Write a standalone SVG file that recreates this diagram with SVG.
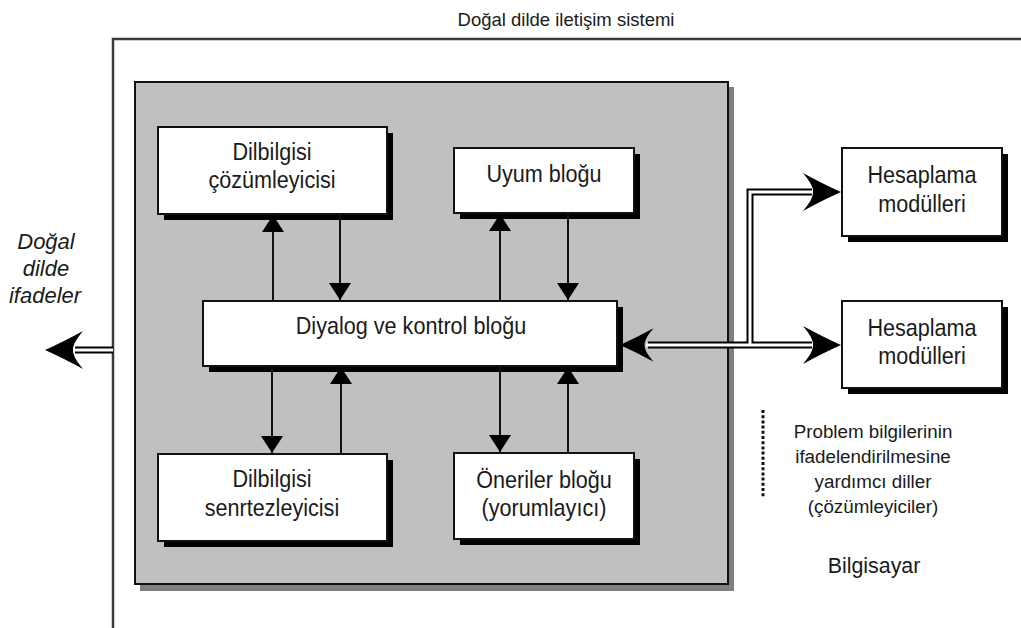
<svg xmlns="http://www.w3.org/2000/svg" width="1021" height="628" viewBox="0 0 1021 628">
  <style>
    .lbl { font-family: "Liberation Sans", Arial, sans-serif; font-size: 24px; fill: #1a1a1a; text-anchor: middle; }
    .sm { font-size: 18.8px; }
    .it { font-style: italic; font-size: 22px; }
    .ttl { font-size: 18.5px; }
    .cap { font-size: 21.4px; }
    .box { fill: #fff; stroke: #111; stroke-width: 2; }
    .shd { fill: #000; }
    .link { stroke: #111; stroke-width: 2; fill: none; }
    .dblo { stroke: #000; stroke-width: 7; fill: none; }
    .dbli { stroke: #fff; stroke-width: 3; fill: none; }
    .head { fill: #000; }
  </style>
  <defs>
    <marker id="tri" viewBox="0 0 17 22" markerWidth="17" markerHeight="22" refX="17" refY="11" orient="auto" markerUnits="userSpaceOnUse">
      <path d="M0,0 L17,11 L0,22 Z" fill="#000"/>
    </marker>
    <!-- barbed head, tip at origin pointing left -->
    <path id="barb" d="M0,0 Q18,-8 38,-19 Q27,-6 28,0 Q27,6 38,19 Q18,8 0,0 Z"/>
  </defs>

  <rect width="1021" height="628" fill="#fff"/>

  <!-- system frame -->
  <path d="M113,628 L113,39 L1021,39" fill="none" stroke="#3a3a3a" stroke-width="2.5"/>
  <text class="lbl ttl" x="566" y="26">Doğal dilde iletişim sistemi</text>

  <!-- grey panel -->
  <g id="panel">
    <rect x="140" y="87" width="594" height="504" fill="#808080"/>
    <rect x="135" y="82" width="593" height="502" fill="#c0c0c0" stroke="#111" stroke-width="2"/>
  </g>

  <g id="dilbilgisi-cozumleyicisi">
    <rect class="shd" x="164" y="133" width="229" height="87"/>
    <rect class="box" x="158" y="127" width="229" height="87"/>
    <text class="lbl" transform="translate(272,160) scale(0.9,1)">Dilbilgisi</text>
    <text class="lbl" transform="translate(272,188) scale(0.9,1)">çözümleyicisi</text>
  </g>

  <g id="uyum-blogu">
    <rect class="shd" x="460" y="154" width="180" height="65"/>
    <rect class="box" x="454" y="148" width="180" height="65"/>
    <text class="lbl" transform="translate(544,182) scale(0.9,1)">Uyum bloğu</text>
  </g>

  <g id="diyalog">
    <rect class="shd" x="209" y="307" width="414" height="65"/>
    <rect class="box" x="203" y="301" width="414" height="65"/>
    <text class="lbl" transform="translate(411,334) scale(0.9,1)">Diyalog ve kontrol bloğu</text>
  </g>

  <g id="dilbilgisi-sentezleyicisi">
    <rect class="shd" x="164" y="460" width="229" height="87"/>
    <rect class="box" x="158" y="454" width="229" height="87"/>
    <text class="lbl" transform="translate(272,487) scale(0.9,1)">Dilbilgisi</text>
    <text class="lbl" transform="translate(272,516) scale(0.9,1)">senrtezleyicisi</text>
  </g>

  <g id="oneriler-blogu">
    <rect class="shd" x="460" y="459" width="180" height="86"/>
    <rect class="box" x="454" y="453" width="180" height="86"/>
    <text class="lbl" transform="translate(544,488) scale(0.9,1)">Öneriler bloğu</text>
    <text class="lbl" transform="translate(544,516) scale(0.9,1)">(yorumlayıcı)</text>
  </g>

  <g id="hesaplama-1">
    <rect class="shd" x="848" y="154" width="160" height="88"/>
    <rect class="box" x="842" y="148" width="160" height="88"/>
    <text class="lbl" transform="translate(922,183) scale(0.9,1)">Hesaplama</text>
    <text class="lbl" transform="translate(922,212) scale(0.9,1)">modülleri</text>
  </g>

  <g id="hesaplama-2">
    <rect class="shd" x="848" y="307" width="160" height="87"/>
    <rect class="box" x="842" y="301" width="160" height="87"/>
    <text class="lbl" transform="translate(922,336) scale(0.9,1)">Hesaplama</text>
    <text class="lbl" transform="translate(922,364) scale(0.9,1)">modülleri</text>
  </g>

  <!-- connectors -->
  <g id="connectors">
    <line class="link" x1="273" y1="301" x2="273" y2="215" marker-end="url(#tri)"/>
    <line class="link" x1="340" y1="214" x2="340" y2="300" marker-end="url(#tri)"/>
    <line class="link" x1="500" y1="301" x2="500" y2="214" marker-end="url(#tri)"/>
    <line class="link" x1="568" y1="213" x2="568" y2="300" marker-end="url(#tri)"/>
    <line class="link" x1="272" y1="366" x2="272" y2="453" marker-end="url(#tri)"/>
    <line class="link" x1="341" y1="454" x2="341" y2="367" marker-end="url(#tri)"/>
    <line class="link" x1="500" y1="366" x2="500" y2="452" marker-end="url(#tri)"/>
    <line class="link" x1="568" y1="453" x2="568" y2="367" marker-end="url(#tri)"/>

    <!-- double-line buses -->
    <path class="dblo" d="M113,350 L75,350"/>
    <path class="dblo" d="M648,345 L812,345 M750,345 L750,192 L812,192"/>
    <path class="dbli" d="M113,350 L72,350"/>
    <path class="dbli" d="M646,345 L814,345 M750,345 L750,192 L814,192"/>
    <use href="#barb" class="head" x="45" y="350"/>
    <use href="#barb" class="head" transform="translate(620,345) scale(0.88)"/>
    <use href="#barb" class="head" transform="translate(841,345) scale(-1,1)"/>
    <use href="#barb" class="head" transform="translate(841,192) scale(-1,1)"/>
  </g>

  <!-- side captions -->
  <text class="lbl it" x="46" y="249">Doğal</text>
  <text class="lbl it" x="46" y="276">dilde</text>
  <text class="lbl it" x="45" y="303">ifadeler</text>

  <line x1="763" y1="410" x2="763" y2="497" stroke="#111" stroke-width="3" stroke-dasharray="3,2.2"/>
  <text class="lbl sm" x="873" y="438">Problem bilgilerinin</text>
  <text class="lbl sm" x="873" y="463">ifadelendirilmesine</text>
  <text class="lbl sm" x="873" y="488">yardımcı diller</text>
  <text class="lbl sm" x="873" y="513">(çözümleyiciler)</text>
  <text class="lbl cap" x="874" y="573">Bilgisayar</text>
</svg>
